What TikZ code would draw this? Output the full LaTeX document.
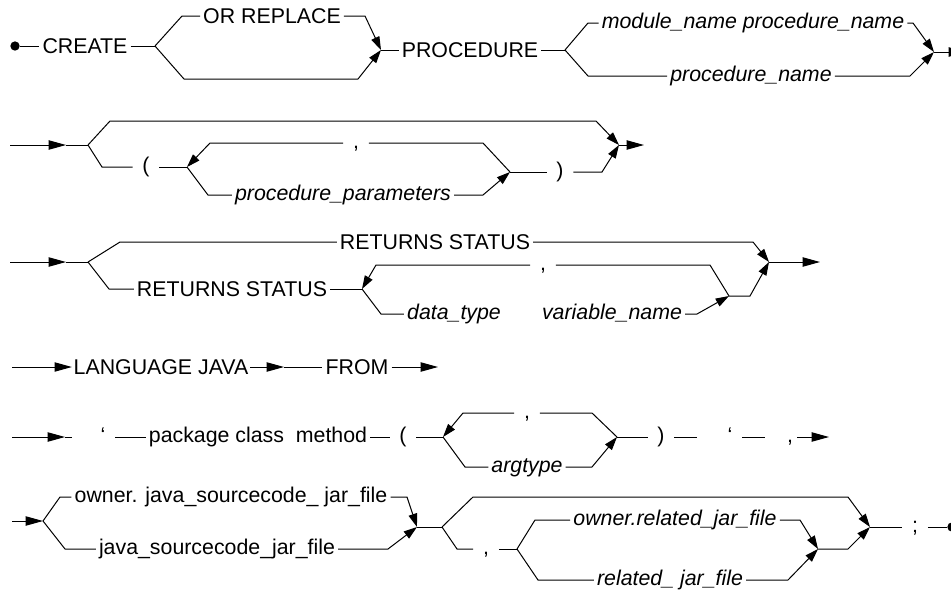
\documentclass[tikz,border=0pt]{standalone}
\usepackage{fontspec}
\setmainfont{Liberation Sans}
\usetikzlibrary{arrows.meta}
\newcommand{\dfont}{\fontsize{16pt}{18pt}\selectfont}
\begin{document}
\begin{tikzpicture}[x=0.75pt,y=-0.75pt, line width=0.75pt,
 kw/.style={font=\dfont, inner sep=2pt, text height=11.5pt, text depth=0pt},
 nm/.style={font=\dfont\itshape, inner sep=2pt, text height=8.3pt, text depth=0pt},
 lc/.style={font=\dfont, inner sep=2pt, text height=8.3pt, text depth=0pt},
 pu/.style={font=\dfont, inner xsep=7pt, inner ysep=2pt, text height=8.3pt, text depth=0pt},
 arr/.style={-{Triangle[length=10pt,width=6.5pt]}},
 farr/.style={-{Triangle[length=13pt,width=7pt]}},
 dot/.style={circle, fill, inner sep=0pt, minimum size=7pt}]
\useasboundingbox (0,0) rectangle (951,590);
\clip (0,0) rectangle (951,590);
% ---------------- Row 1
\node[dot] (s1) at (15,46) {};
\node[kw] (create) at (85,46) {CREATE};
\coordinate (b1) at (155,46);
\node[kw] (orr) at (272,16) {OR REPLACE};
\coordinate (j1) at (381,50);
\node[kw] (proc) at (470,50) {PROCEDURE};
\coordinate (b2) at (565,50);
\node[nm] (mpn) at (753,23) {module\_name procedure\_name};
\node[nm] (pn) at (751,76) {procedure\_name};
\coordinate (j2) at (934,52);
\coordinate (e1) at (966,52);
\draw (s1) -- (create);
\draw (create) -- (b1);
\draw (b1) -- (182,16) -- (orr);
\draw[arr] (orr) -- (365,16) -- (j1);
\draw[arr] (b1) -- (184,79) -- (358,79) -- (j1);
\draw (j1) -- (proc);
\draw (proc) -- (b2);
\draw (b2) -- (588,23) -- (mpn);
\draw[arr] (mpn) -- (913,23) -- (j2);
\draw (b2) -- (588,76) -- (pn);
\draw[arr] (pn) -- (910,76) -- (j2);
\draw[farr] (j2) -- (e1);
% ---------------- Row 2
\coordinate (r2s) at (10,145);
\coordinate (r2a) at (66,145);
\coordinate (b3) at (88,145);
\coordinate (j3) at (619,145);
\coordinate (r2e) at (644,145);
\node[pu] (lp2) at (146,167) {(};
\coordinate (k2) at (187,167);
\coordinate (m2) at (510,172);
\node[pu] (cm2) at (356,143) {,};
\node[nm] (pp) at (343,195) {procedure\_parameters};
\node[pu] (rp2) at (560,172) {)};
\draw[farr] (r2s) -- (r2a);
\draw (r2a) -- (b3);
\draw[arr] (b3) -- (110,121) -- (596,121) -- (j3);
\draw (b3) -- (102,167) -- (lp2);
\draw (lp2) -- (k2);
\draw (m2) -- (483,143) -- (cm2);
\draw[arr] (cm2) -- (210,143) -- (k2);
\draw (k2) -- (208,195) -- (pp);
\draw[arr] (pp) -- (483,195) -- (m2);
\draw (m2) -- (rp2);
\draw[arr] (rp2) -- (602,172) -- (j3);
\draw[farr] (j3) -- (r2e);
% ---------------- Row 3
\coordinate (r3s) at (10,262);
\coordinate (r3a) at (66,262);
\coordinate (b4) at (88,262);
\node[kw] (rs1) at (435,242) {RETURNS STATUS};
\coordinate (j4) at (769,262);
\coordinate (r3e) at (820,262);
\node[kw] (rs2) at (232,289) {RETURNS STATUS};
\coordinate (k4) at (362,289);
\node[pu] (cm4) at (543,265) {,};
\coordinate (m4) at (729,296);
\node[nm] (dt) at (454,314) {data\_type};
\node[nm] (vn) at (612,314) {variable\_name};
\draw[farr] (r3s) -- (r3a);
\draw (r3a) -- (b4);
\draw (b4) -- (120,242) -- (rs1);
\draw[arr] (rs1) -- (753,242) -- (j4);
\draw (b4) -- (109,289) -- (rs2);
\draw (rs2) -- (k4);
\draw (m4) -- (710,265) -- (cm4);
\draw[arr] (cm4) -- (376,265) -- (k4);
\draw (k4) -- (381,314) -- (dt);
\draw[arr] (vn) -- (697,314) -- (m4);
\draw[arr] (m4) -- (750,296) -- (j4);
\draw[farr] (j4) -- (r3e);
% ---------------- Row 4
\coordinate (r4s) at (12,367);
\node[kw, inner sep=1pt] (lj) at (161,367) {LANGUAGE JAVA};
\coordinate (r4b) at (284,367);
\node[kw] (from) at (357,367) {FROM};
\coordinate (r4e) at (438,367);
\draw[farr] (r4s) -- (lj);
\draw[farr] (lj) -- (r4b);
\draw (r4b) -- (from);
\draw[farr] (from) -- (r4e);
% ---------------- Row 5
\coordinate (r5s) at (12,437);
\coordinate (r5a) at (65,437);
\coordinate (r5b) at (72,437);
\node[pu] (q1) at (103,437) {‘};
\node[lc] (pcm) at (258,437) {package class~ method};
\node[pu] (lp5) at (403,437) {(};
\coordinate (k5) at (443,437);
\node[pu] (cm5) at (527,413) {,};
\node[nm] (ag) at (527,467) {argtype};
\coordinate (m5) at (617,437);
\node[pu] (rp5) at (661,437) {)};
\node[pu] (q2) at (730,437) {‘};
\node[pu, inner xsep=3pt] (q3) at (790,437) {,};
\coordinate (r5c) at (697,437);
\coordinate (r5d) at (765,437);
\coordinate (r5e) at (829,437);
\draw[farr] (r5s) -- (r5a);
\draw (r5a) -- (r5b);
\draw (q1) -- (pcm);
\draw (pcm) -- (lp5);
\draw (lp5) -- (k5);
\draw (m5) -- (592,413) -- (cm5);
\draw[arr] (cm5) -- (463,413) -- (k5);
\draw (k5) -- (465,467) -- (ag);
\draw[arr] (ag) -- (592,467) -- (m5);
\draw (m5) -- (rp5);
\draw (rp5) -- (r5c);
\draw (q2) -- (r5d);
\draw[farr] (q3) -- (r5e);
% ---------------- Row 6
\coordinate (r6s) at (12,521);
\coordinate (b6) at (43,521);
\node[lc] (ojs) at (231,497) {owner. java\_sourcecode\_ jar\_file};
\node[lc] (js) at (217,549) {java\_sourcecode\_jar\_file};
\coordinate (j6) at (417,527);
\coordinate (b7) at (442,527);
\coordinate (j7) at (870,527);
\node[pu] (cm7) at (486,549) {,};
\coordinate (k7) at (517,549);
\node[nm] (orj) at (675,520) {owner.related\_jar\_file};
\node[nm] (rj) at (670,580) {related\_ jar\_file};
\coordinate (m7) at (818,549);
\node[pu] (sc) at (915,527) {;};
\node[dot] (e6) at (952,527) {};
\draw[farr] (r6s) -- (b6);
\draw (b6) -- (60,497) -- (ojs);
\draw[arr] (ojs) -- (407,497) -- (j6);
\draw (b6) -- (65,549) -- (js);
\draw[arr] (js) -- (388,549) -- (j6);
\draw (j6) -- (b7);
\draw[arr] (b7) -- (473,497) -- (848,497) -- (j7);
\draw (b7) -- (457,549) -- (cm7);
\draw (cm7) -- (k7);
\draw (k7) -- (535,520) -- (orj);
\draw[arr] (orj) -- (800,520) -- (m7);
\draw (k7) -- (538,580) -- (rj);
\draw[arr] (rj) -- (788,580) -- (m7);
\draw[arr] (m7) -- (848,549) -- (j7);
\draw (j7) -- (sc);
\draw (sc) -- (e6);
\end{tikzpicture}
\end{document}
